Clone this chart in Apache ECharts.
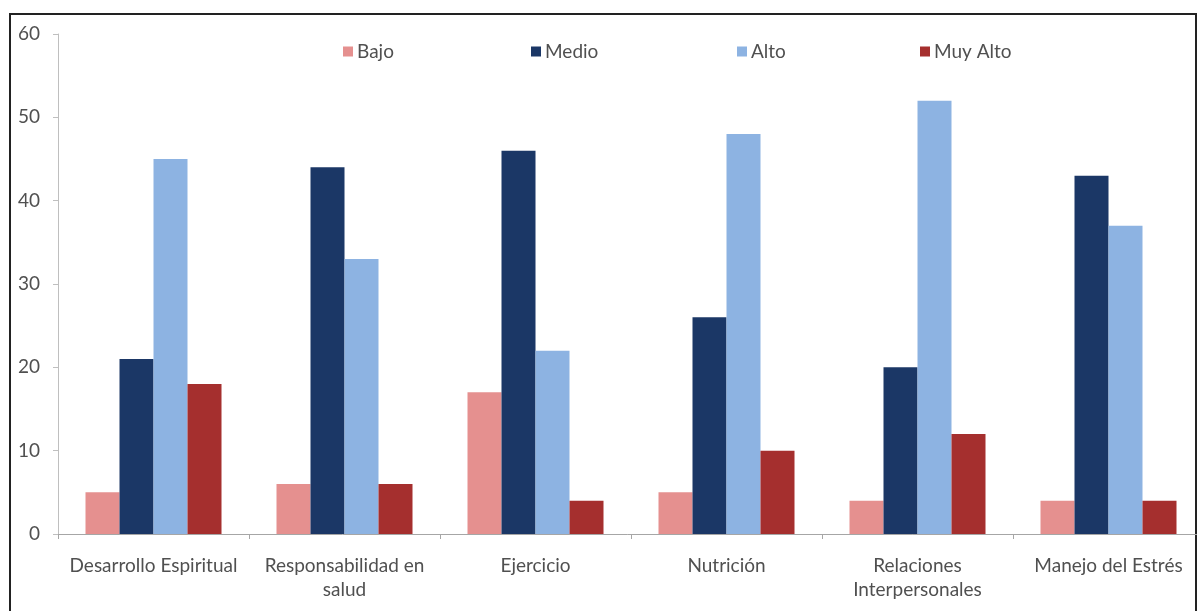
<!DOCTYPE html>
<html>
<head>
<meta charset="utf-8">
<script src="https://cdn.jsdelivr.net/npm/echarts@6/dist/echarts.min.js"></script>
<style>
  html, body { margin: 0; padding: 0; background: #fff; }
  #chart { width: 1197px; height: 611px; }
</style>
</head>
<body>
<div id="chart"></div>
<script>
// Dimensiones del estilo de vida promotor de salud
const categories = [
  'Desarrollo Espiritual',
  'Responsabilidad en\nsalud',
  'Ejercicio',
  'Nutrición',
  'Relaciones\nInterpersonales',
  'Manejo del Estrés'
];
const seriesNames = ['Bajo', 'Medio', 'Alto', 'Muy Alto'];
const bajo    = [5, 6, 17, 5, 4, 4];
const medio   = [21, 44, 46, 26, 20, 43];
const alto    = [45, 33, 22, 48, 52, 37];
const muyAlto = [18, 6, 4, 10, 12, 4];
const colors  = ['#E5908F', '#1B3766', '#8DB3E2', '#A52F2E'];

const values = [bajo, medio, alto, muyAlto];
const legendLeft = [343, 531, 737, 920];
const font = 'Lato, "Open Sans", sans-serif';
const textColor = '#505050';

const chart = echarts.init(document.getElementById('chart'));
chart.setOption({
  animation: false,
  backgroundColor: '#fff',
  graphic: [{
    type: 'rect',
    shape: { x: 10, y: 14, width: 1186, height: 620 },
    style: { fill: 'none', stroke: '#222', lineWidth: 2 },
    silent: true
  }],
  // one legend block per series so each entry sits at its own place
  legend: seriesNames.map((name, i) => ({
    left: legendLeft[i],
    top: 42,
    itemWidth: 10,
    itemHeight: 10,
    icon: 'rect',
    padding: 0,
    textStyle: { color: textColor, fontSize: 19, fontFamily: font, padding: [0, 0, 0, -1] },
    data: [name]
  })),
  grid: {
    left: 58, top: 34, width: 1146, bottom: 77,
    containLabel: false,
    outerBoundsMode: 'none'
  },
  xAxis: {
    type: 'category',
    data: categories,
    axisLine: { lineStyle: { color: '#A6A6A6' } },
    axisTick: { show: true, length: 5, lineStyle: { color: '#A6A6A6' } },
    axisLabel: {
      color: textColor, fontSize: 19, fontFamily: font,
      margin: 20, lineHeight: 24, interval: 0
    }
  },
  yAxis: {
    type: 'value',
    min: 0, max: 60, interval: 10,
    splitLine: { show: false },
    axisLine: { show: true, lineStyle: { color: '#BFBFBF' } },
    axisTick: { show: true, length: 5, lineStyle: { color: '#BFBFBF' } },
    axisLabel: { color: textColor, fontSize: 19, fontFamily: font, margin: 18 }
  },
  series: seriesNames.map((name, i) => ({
    name: name,
    type: 'bar',
    data: values[i],
    barWidth: 34,
    barGap: '0%',
    itemStyle: { color: colors[i] }
  }))
});
</script>
</body>
</html>
